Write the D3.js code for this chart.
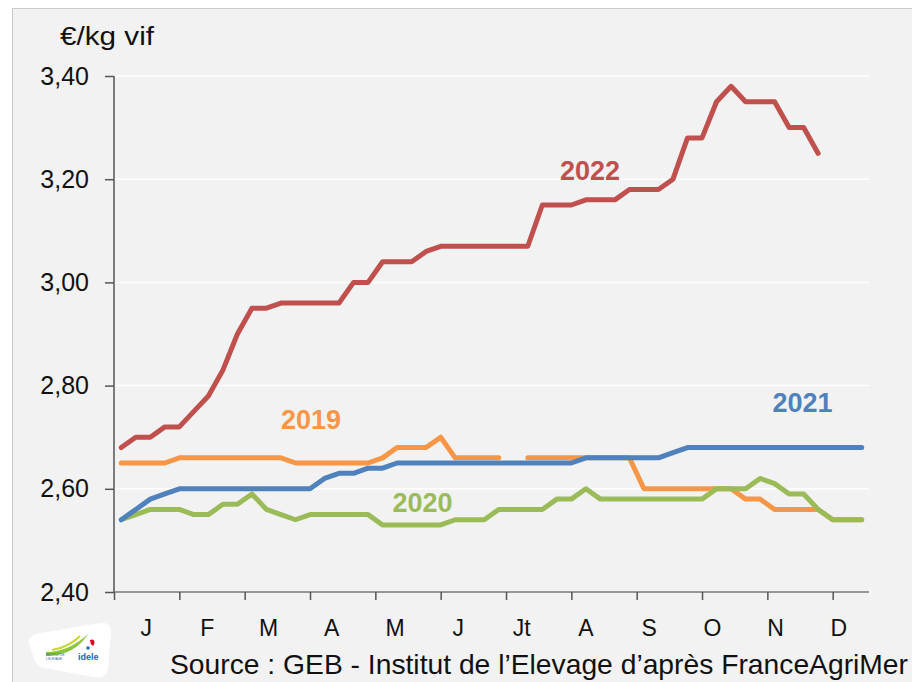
<!DOCTYPE html>
<html>
<head>
<meta charset="utf-8">
<script src="https://cdn.jsdelivr.net/npm/d3@7"></script>
<style>
  html, body { margin: 0; padding: 0; background: #ffffff; }
  svg { display: block; }
</style>
</head>
<body>
<script>
// weekly prices, €/kg vif (week 1 .. 52), null = no quote
const y2019 = [2.65, 2.65, 2.65, 2.65, 2.66, 2.66, 2.66, 2.66, 2.66, 2.66, 2.66, 2.66, 2.65,
  2.65, 2.65, 2.65, 2.65, 2.65, 2.66, 2.68, 2.68, 2.68, 2.70, 2.66, 2.66, 2.66, 2.66, null,
  2.66, 2.66, 2.66, 2.66, 2.66, 2.66, 2.66, 2.66, 2.60, 2.60, 2.60, 2.60, 2.60, 2.60, 2.60,
  2.58, 2.58, 2.56, 2.56, 2.56, 2.56, 2.54, 2.54, 2.54];
const y2020 = [2.54, 2.55, 2.56, 2.56, 2.56, 2.55, 2.55, 2.57, 2.57, 2.59, 2.56, 2.55, 2.54,
  2.55, 2.55, 2.55, 2.55, 2.55, 2.53, 2.53, 2.53, 2.53, 2.53, 2.54, 2.54, 2.54, 2.56, 2.56,
  2.56, 2.56, 2.58, 2.58, 2.60, 2.58, 2.58, 2.58, 2.58, 2.58, 2.58, 2.58, 2.58, 2.60, 2.60,
  2.60, 2.62, 2.61, 2.59, 2.59, 2.56, 2.54, 2.54, 2.54];
const y2021 = [2.54, 2.56, 2.58, 2.59, 2.60, 2.60, 2.60, 2.60, 2.60, 2.60, 2.60, 2.60, 2.60,
  2.60, 2.62, 2.63, 2.63, 2.64, 2.64, 2.65, 2.65, 2.65, 2.65, 2.65, 2.65, 2.65, 2.65, 2.65,
  2.65, 2.65, 2.65, 2.65, 2.66, 2.66, 2.66, 2.66, 2.66, 2.66, 2.67, 2.68, 2.68, 2.68, 2.68,
  2.68, 2.68, 2.68, 2.68, 2.68, 2.68, 2.68, 2.68, 2.68];
const y2022 = [2.68, 2.70, 2.70, 2.72, 2.72, 2.75, 2.78, 2.83, 2.90, 2.95, 2.95, 2.96, 2.96,
  2.96, 2.96, 2.96, 3.00, 3.00, 3.04, 3.04, 3.04, 3.06, 3.07, 3.07, 3.07, 3.07, 3.07, 3.07,
  3.07, 3.15, 3.15, 3.15, 3.16, 3.16, 3.16, 3.18, 3.18, 3.18, 3.20, 3.28, 3.28, 3.35, 3.38,
  3.35, 3.35, 3.35, 3.30, 3.30, 3.25];

const years = ["2019", "2020", "2021", "2022"];
const months = ["J", "F", "M", "A", "M", "J", "Jt", "A", "S", "O", "N", "D"];
const monthDays = [31, 28, 31, 30, 31, 30, 31, 31, 30, 31, 30, 31];
const yTicks = [2.40, 2.60, 2.80, 3.00, 3.20, 3.40];

const W = 912, H = 682;
const colors = { "2019": "#f79646", "2020": "#9bbb59", "2021": "#4f81bd", "2022": "#c0504d" };
const font = "'Liberation Sans', Arial, sans-serif";

const svg = d3.select("body").append("svg")
    .attr("width", W)
    .attr("height", H);

// panel
svg.append("rect")
    .attr("x", 12.5).attr("y", 8.5)
    .attr("width", W + 20).attr("height", H + 20)
    .attr("fill", "#f2f2f2")
    .attr("stroke", "#c8c8c8");

const x = d3.scaleLinear().domain([0, 52]).range([114, 869]);
const y = d3.scaleLinear().domain([2.40, 3.40]).range([592, 76]);

// gridlines
svg.append("g")
    .selectAll("line")
    .data(yTicks.slice(1))
    .join("line")
    .attr("x1", x(0)).attr("x2", x(52))
    .attr("y1", d => y(d)).attr("y2", d => y(d))
    .attr("stroke", "#ffffff")
    .attr("stroke-width", 1.5);

// y axis
const yAxis = svg.append("g")
    .attr("transform", `translate(${x(0)},0)`)
    .call(d3.axisLeft(y).tickValues(yTicks).tickSize(9).tickPadding(16)
        .tickFormat(d => d3.format(".2f")(d).replace(".", ",")));
yAxis.select(".domain").attr("stroke", "#555").attr("stroke-width", 1.5).attr("d", `M0,${y(3.40)}V${y(2.40)}`);
yAxis.selectAll(".tick line").attr("stroke", "#555").attr("stroke-width", 1.5);
yAxis.selectAll(".tick text")
    .attr("font-family", font).attr("font-size", 25).attr("fill", "#111");

// x axis: tick marks every 4.5 weeks
const xTicks = d3.range(0, 50, 4.5);
const xAxis = svg.append("g")
    .attr("transform", `translate(0,${y(2.40)})`)
    .call(d3.axisBottom(x).tickValues(xTicks).tickSize(8).tickFormat(""));
xAxis.select(".domain").attr("stroke", "#777").attr("stroke-width", 1.5).attr("d", `M${x(0)},0H${x(52)}`);
xAxis.selectAll(".tick line").attr("stroke", "#555").attr("stroke-width", 1.5);

// month labels at mid-month (in weeks)
const cum = d3.cumsum(monthDays);
svg.append("g")
    .selectAll("text")
    .data(months)
    .join("text")
    .attr("x", (d, i) => x((cum[i] - monthDays[i] / 2) / 7))
    .attr("y", 636)
    .attr("text-anchor", "middle")
    .attr("font-family", font)
    .attr("font-size", 23)
    .attr("fill", "#111")
    .text(d => d);

// y axis unit
svg.append("text")
    .attr("x", 60).attr("y", 45)
    .attr("font-family", font).attr("font-size", 25)
    .attr("textLength", 94).attr("lengthAdjust", "spacingAndGlyphs")
    .attr("fill", "#111")
    .text("€/kg vif");

// lines
const series = [y2019, y2020, y2021, y2022];
const line = d3.line()
    .defined(d => d != null)
    .x((d, i) => x(i + 0.5))
    .y(d => y(d));

svg.append("g")
    .selectAll("path")
    .data(series)
    .join("path")
    .attr("d", d => line(d))
    .attr("fill", "none")
    .attr("stroke", (d, i) => colors[years[i]])
    .attr("stroke-width", 5)
    .attr("stroke-linejoin", "round")
    .attr("stroke-linecap", "round");

// year labels (anchored in week / price units)
const labelAt = [
    { year: "2019", wk: 13.57, v: 2.716 },
    { year: "2020", wk: 21.25, v: 2.556 },
    { year: "2021", wk: 47.42, v: 2.749 },
    { year: "2022", wk: 32.78, v: 3.199 }
];
svg.append("g")
    .selectAll("text")
    .data(labelAt)
    .join("text")
    .attr("x", d => x(d.wk))
    .attr("y", d => y(d.v))
    .attr("text-anchor", "middle")
    .attr("font-family", font)
    .attr("font-weight", "bold")
    .attr("font-size", 27)
    .attr("fill", d => colors[d.year])
    .text(d => d.year);

// source
svg.append("text")
    .attr("x", 170).attr("y", 674)
    .attr("font-family", font).attr("font-size", 28)
    .attr("textLength", 738).attr("lengthAdjust", "spacingAndGlyphs")
    .attr("fill", "#111")
    .text("Source : GEB - Institut de l\u2019Elevage d\u2019apr\u00e8s FranceAgriMer");

// idele logo (rough)
const logo = svg.append("g");
logo.append("path")
    .attr("d", "M30,646 C26,640 32,634 40,633 L100,623 C108,622 112,627 111,634 L108,668 C107,676 102,679 94,677 L44,668 C36,666 34,660 30,646 Z")
    .attr("fill", "#ffffff");
logo.append("path")
    .attr("d", "M46,652 C62,652 76,645 88,634 C80,647 66,656 46,656 Z")
    .attr("fill", "#8cc63f");
logo.append("path")
    .attr("d", "M52,650 C64,648 74,642 80,636")
    .attr("fill", "none").attr("stroke", "#c5d92d").attr("stroke-width", 2);
logo.append("path")
    .attr("d", "M90,640 C94,638 96,642 93,646 L91,644 Z")
    .attr("fill", "#e2001a");
logo.append("circle").attr("cx", 88).attr("cy", 648).attr("r", 1.8).attr("fill", "#2b6cb0");
logo.append("text")
    .attr("x", 78).attr("y", 660)
    .attr("font-family", font).attr("font-weight", "bold").attr("font-size", 9)
    .attr("fill", "#1f5fae")
    .text("idele");
logo.append("text")
    .attr("x", 46).attr("y", 656)
    .attr("font-family", font).attr("font-size", 3)
    .attr("fill", "#1f5fae")
    .text("INSTITUT DE");
logo.append("text")
    .attr("x", 46).attr("y", 660)
    .attr("font-family", font).attr("font-size", 3)
    .attr("fill", "#1f5fae")
    .text("L'ELEVAGE");
</script>
</body>
</html>
